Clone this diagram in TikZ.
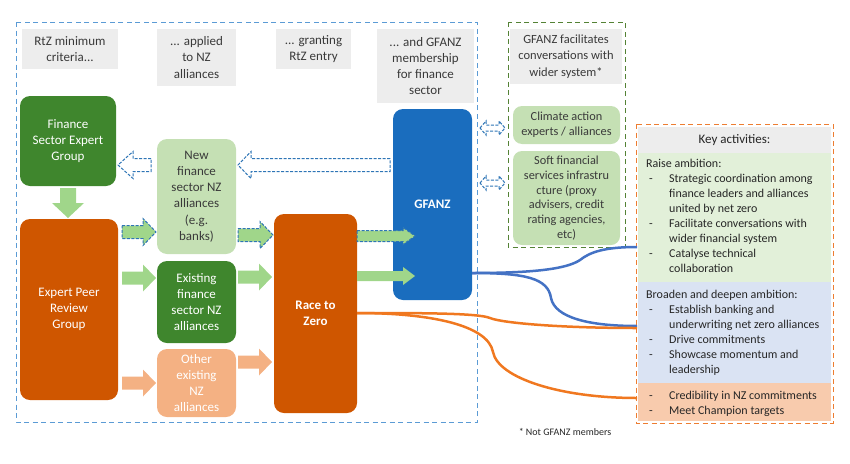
\documentclass[tikz,border=0pt]{standalone}
\usepackage{fontspec}
\setmainfont{Carlito}
\definecolor{hdrgrey}{HTML}{EDEDED}
\definecolor{txtdark}{HTML}{3A3A3A}
\definecolor{dkgreen}{HTML}{3F862D}
\definecolor{orng}{HTML}{CF5600}
\definecolor{ltorange}{HTML}{F4B183}
\definecolor{ltgreen}{HTML}{C5E0B4}
\definecolor{gfblue}{HTML}{1A6DBE}
\definecolor{arrgreen}{HTML}{A0D68A}
\definecolor{arrblue}{HTML}{2E75B6}
\definecolor{keygreen}{HTML}{E2F0D9}
\definecolor{keyblue}{HTML}{DAE3F3}
\definecolor{keyorange}{HTML}{F8CBAD}
\definecolor{frblue}{HTML}{5B9BD5}
\definecolor{frgreen}{HTML}{548235}
\definecolor{frorange}{HTML}{ED7D31}
\definecolor{curveblue}{HTML}{4472C4}
\definecolor{curveorange}{HTML}{F07820}
\newcommand\myhfont{\fontsize{13}{16.3}\selectfont}
\newcommand\mysfont{\fontsize{12.3}{14.8}\selectfont}
\newcommand\mykfont{\fontsize{12}{15}\selectfont}
\newcommand\kd{\makebox[23pt][l]{\hspace{3pt}-}}
\newcommand\ki{\hspace*{23pt}}
% block arrow: style, xtail, xtip, y, shaft half, head half, signed head length
\newcommand\barr[7]{\path[#1] ({#2},{#4-#5}) -- ({#3-(#7)},{#4-#5}) -- ({#3-(#7)},{#4-#6}) -- ({#3},{#4}) -- ({#3-(#7)},{#4+#6}) -- ({#3-(#7)},{#4+#5}) -- ({#2},{#4+#5}) -- cycle;}
% double hollow arrow: style, x1, x2, y, shaft half, head half, head length
\newcommand\darr[7]{\path[#1] ({#2},{#4}) -- ({#2+#7},{#4-#6}) -- ({#2+#7},{#4-#5}) -- ({#3-#7},{#4-#5}) -- ({#3-#7},{#4-#6}) -- ({#3},{#4}) -- ({#3-#7},{#4+#6}) -- ({#3-#7},{#4+#5}) -- ({#2+#7},{#4+#5}) -- ({#2+#7},{#4+#6}) -- cycle;}
\begin{document}
\begin{tikzpicture}[x=1pt,y=-1pt,
  hdr/.style={fill=hdrgrey, inner sep=0pt, align=center, text=txtdark, font=\myhfont},
  blk/.style={rounded corners=10pt, inner sep=0pt, align=center, font=\myhfont},
  sbox/.style={rounded corners=9pt, inner sep=0pt, align=center, fill=ltgreen, text=txtdark, font=\mysfont},
  frame/.style={line width=1pt, dash pattern=on 5pt off 3.5pt},
  harr/.style={draw=arrblue, fill=white, line width=1pt, dash pattern=on 3pt off 1.5pt},
  garrd/.style={fill=arrgreen, draw=arrblue, line width=1pt, dash pattern=on 3pt off 1.5pt},
  garr/.style={fill=arrgreen},
  oarr/.style={fill=ltorange},
  curve/.style={line width=2.5pt},
  keytxt/.style={anchor=north west, inner sep=0pt, align=left, text=black!85, font=\mykfont}
]
\useasboundingbox (0,0) rectangle (850,463);

% frames
\draw[frame, draw=frblue] (16,22) rectangle (477,422);
\draw[frame, draw=frgreen] (508,22) rectangle (625,247);

% header boxes
\node[hdr, minimum width=96pt, minimum height=40pt] (h1) at (70,49) {RtZ minimum\\criteria...};
\node[hdr, minimum width=79pt, minimum height=57pt] (h2) at (196.5,57.5) {... applied\\to NZ\\alliances};
\node[hdr, minimum width=75pt, minimum height=40pt] (h3) at (313.5,49) {... granting\\RtZ entry};
\node[hdr, minimum width=97pt, minimum height=74pt] (h4) at (425.5,66) {... and GFANZ\\membership\\for finance\\sector};
\node[hdr, minimum width=112pt, minimum height=55pt, font=\fontsize{12.5}{16.3}\selectfont] (h5) at (566,56.5) {GFANZ facilitates\\conversations with\\wider system*};

% main boxes
\node[blk, fill=dkgreen, text=white, minimum width=96pt, minimum height=90pt] (fseg) at (68,141) {Finance\\Sector Expert\\Group};
\node[blk, fill=orng, text=white, minimum width=98pt, minimum height=181pt] (eprg) at (69,309.5) {Expert Peer\\Review\\Group};
\node[blk, fill=ltgreen, text=txtdark, minimum width=79pt, minimum height=115pt] (newfs) at (196.5,196.5) {New\\finance\\sector NZ\\alliances\\(e.g.\\banks)};
\node[blk, fill=dkgreen, text=white, minimum width=79pt, minimum height=82pt] (exist) at (196.5,302) {Existing\\finance\\sector NZ\\alliances};
\node[blk, fill=ltorange, text=white, minimum width=79pt, minimum height=68pt] (other) at (196.5,383) {Other\\existing\\NZ\\alliances};
\node[blk, fill=orng, text=white, minimum width=83pt, minimum height=199pt, font=\myhfont\bfseries] (rtz) at (315.5,313.5) {Race to\\Zero};
\node[blk, fill=gfblue, text=white, minimum width=79pt, minimum height=191pt, font=\myhfont\bfseries] (gfanz) at (432.5,204.5) {GFANZ};
\node[sbox, minimum width=107pt, minimum height=38pt] (climate) at (566.5,125) {Climate action\\experts / alliances};
\node[sbox, minimum width=107pt, minimum height=94pt] (soft) at (566.5,198) {Soft financial\\services infrastru\\cture (proxy\\advisers, credit\\rating agencies,\\etc)};

% down arrow FSEG -> EPRG
\path[garr] (60,188) -- (76,188) -- (76,203) -- (84,203) -- (68,218) -- (52,203) -- (60,203) -- cycle;

% hollow dashed arrows
\barr{harr}{151}{118}{165}{6.5}{13.5}{-15}
\barr{harr}{390}{238}{165}{6.5}{13.5}{-13}
\darr{harr}{480}{505}{128}{3}{7}{6}
\darr{harr}{480}{505}{183}{3}{7}{6}

% green arrows with dashed outline
\barr{garrd}{122}{156}{232}{6.5}{13.5}{13}
\barr{garrd}{238}{273}{235}{6.5}{13.5}{13}
\barr{garrd}{357}{415}{236}{5.5}{8.5}{12}
% solid green arrows
\barr{garr}{122}{156}{278}{6.5}{13.5}{13}
\barr{garr}{238}{272}{277}{6.5}{13.5}{13}
\barr{garr}{357}{415}{276}{5}{9}{12}
% orange arrows
\barr{oarr}{122}{156}{383}{6.5}{13.5}{13}
\barr{oarr}{238}{272}{362}{6.5}{13.5}{13}

% key activities
\fill[hdrgrey] (638,127) rectangle (831,153);
\fill[keygreen] (638,153) rectangle (831,282);
\fill[keyblue] (638,282) rectangle (831,383);
\fill[keyorange] (638,383) rectangle (831,421);
\node[inner sep=0pt, text=black!85, font=\fontsize{13}{15}\selectfont] (keyhdr) at (734.5,140) {Key activities:};
\node[keytxt] (kraise) at (646,159) {Raise ambition:\\\kd Strategic coordination among\\\ki finance leaders and alliances\\\ki united by net zero\\\kd Facilitate conversations with\\\ki wider financial system\\\kd Catalyse technical\\\ki collaboration};
\node[keytxt] (kbroad) at (646,290) {Broaden and deepen ambition:\\\kd Establish banking and\\\ki underwriting net zero alliances\\\kd Drive commitments\\\kd Showcase momentum and\\\ki leadership};
\node[keytxt] (kcred) at (646,390.5) {\kd Credibility in NZ commitments\\\kd Meet Champion targets};
\draw[frame, draw=frorange] (636,124) rectangle (833,423);

% curves
\coordinate (gb) at (472,273);
\coordinate (ro) at (357,313);
\coordinate (ka) at (637,247);
\coordinate (kb) at (637,326);
\coordinate (kb2) at (637,328);
\coordinate (kc) at (637,398);
\draw[curve, curveblue] (gb) .. controls (540,273) and (568,268) .. (580,260) .. controls (590,252) and (605,247) .. (ka);
\draw[curve, curveblue] (gb) .. controls (525,273) and (548,278) .. (551,298) .. controls (555,318) and (590,326) .. (kb);
\draw[curve, curveorange] (ro) .. controls (420,313) and (478,313) .. (490,318) .. controls (502,323) and (560,328) .. (kb2);
\draw[curve, curveorange] (ro) .. controls (430,313) and (488,325) .. (493,352) .. controls (498,378) and (560,398) .. (kc);

% footnote
\node[inner sep=0pt, text=black!85, font=\fontsize{10}{12}\selectfont] (foot) at (565,432) {* Not GFANZ members};
\end{tikzpicture}
\end{document}
